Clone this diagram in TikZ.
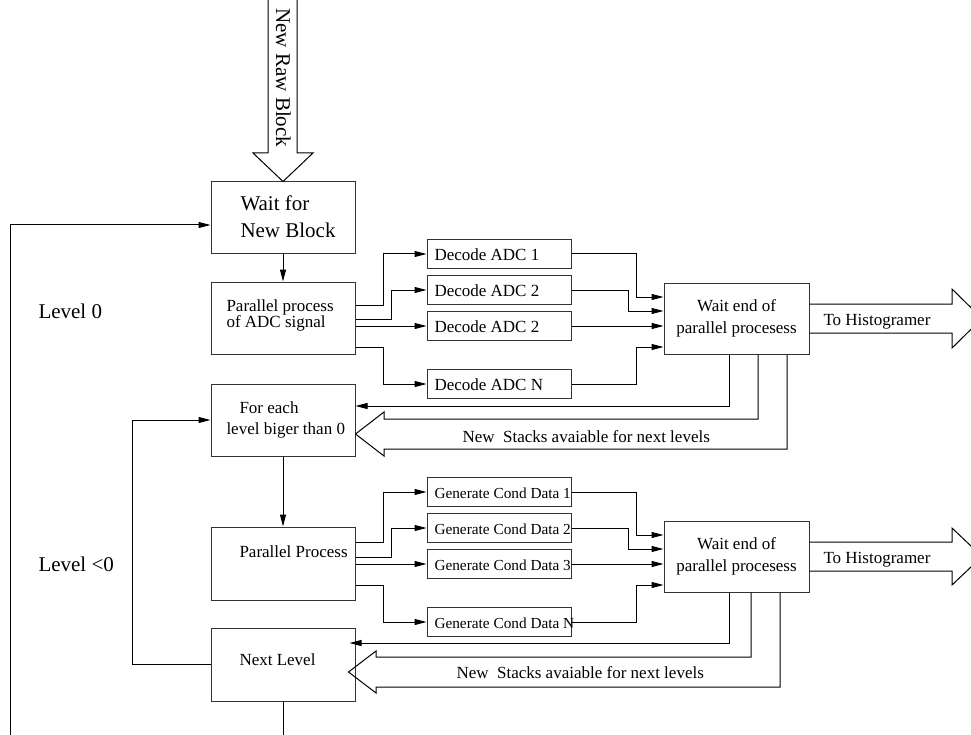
\documentclass[tikz,border=0pt]{standalone}
\usepackage{fontspec}
\setmainfont{Liberation Serif}
\usetikzlibrary{arrows.meta,calc}
\newcommand\szA{\fontsize{21}{24}\selectfont}
\newcommand\szB{\fontsize{17}{20}\selectfont}
\newcommand\szC{\fontsize{15.3}{18}\selectfont}
\begin{document}
\begin{tikzpicture}[x=1pt,y=-1pt,line width=1pt,
  box/.style={draw=black!80,rectangle,inner sep=0pt,minimum width=144pt,minimum height=72pt},
  sbox/.style={draw=black!80,rectangle,inner sep=0pt,minimum width=144pt,minimum height=29pt},
  arr/.style={-{Triangle[length=12pt,width=6pt]}},
  hollow/.style={draw=black,line join=miter},
  lbl/.style={inner sep=0pt,anchor=base west},
  clbl/.style={inner sep=0pt,anchor=base}]
\clip (0,0) rectangle (971,735);
\fill[white] (0,0) rectangle (971,735);

% main boxes
\node[box] (wait) at (283,218) {};
\node[box] (par) at (283,318) {};
\node[box] (fe) at (283,420) {};
\node[box,minimum height=73pt] (pp) at (283,563.5) {};
\node[box,minimum height=73pt] (nl) at (283,664.5) {};
\node[box,minimum width=145pt,minimum height=71pt] (we1) at (736.5,318.5) {};
\node[box,minimum width=145pt,minimum height=71pt] (we2) at (736.5,556.5) {};

% small boxes
\node[sbox] (d1) at (499,254) {};
\node[sbox] (d2) at (499,290) {};
\node[sbox] (d3) at (499,326) {};
\node[sbox] (dN) at (499,384) {};
\node[sbox] (g1) at (499,492) {};
\node[sbox] (g2) at (499,528) {};
\node[sbox] (g3) at (499,564) {};
\node[sbox] (gN) at (499,622) {};

% texts
\node[lbl,font=\szA] (tw1) at (240,211) {Wait for};
\node[lbl,font=\szA] (tw2) at (240,237) {New Block};
\node[lbl,font=\szB] (tp1) at (226,311) {Parallel process};
\node[lbl,font=\szB] (tp2) at (226,327) {of ADC signal};
\node[lbl,font=\szA] (lv0) at (38,318) {Level 0};
\node[lbl,font=\szA] (lvn) at (38,571) {Level <0};
\node[lbl,font=\szB] (td1) at (434,260.5) {Decode ADC 1};
\node[lbl,font=\szB] (td2) at (434,296.5) {Decode ADC 2};
\node[lbl,font=\szB] (td3) at (434,332.5) {Decode ADC 2};
\node[lbl,font=\szB] (tdN) at (434,390.5) {Decode ADC N};
\node[lbl,font=\szC] (tg1) at (434,498.5) {Generate Cond Data 1};
\node[lbl,font=\szC] (tg2) at (434,534.5) {Generate Cond Data 2};
\node[lbl,font=\szC] (tg3) at (434,570.5) {Generate Cond Data 3};
\node[lbl,font=\szC] (tgN) at (434,628.5) {Generate Cond Data N};
\node[clbl,font=\szB] (te1a) at (736.5,311) {Wait end of};
\node[clbl,font=\szB] (te1b) at (736.5,333) {parallel procesess};
\node[clbl,font=\szB] (te2a) at (736.5,549) {Wait end of};
\node[clbl,font=\szB] (te2b) at (736.5,571) {parallel procesess};
\node[lbl,font=\szB] (th1) at (823,325) {To Histogramer};
\node[lbl,font=\szB] (th2) at (823,563) {To Histogramer};
\node[lbl,font=\szB] (tf1) at (239,413) {For each};
\node[lbl,font=\szB] (tf2) at (226,434) {level biger than 0};
\node[lbl,font=\szB] (tpp) at (239,557) {Parallel Process};
\node[lbl,font=\szB] (tnl) at (239,665) {Next Level};
\node[lbl,font=\szB] (ts1) at (462,442) {New\ \ Stacks avaiable for next levels};
\node[lbl,font=\szB] (ts2) at (456,678) {New\ \ Stacks avaiable for next levels};

% New Raw Block hollow arrow
\draw[hollow] (268,-5) -- (268,153) -- (253,153) -- (wait.north) -- (313,153) -- (297,153) -- (297,-5);
\node[lbl,font=\szA,rotate=-90] (trb) at (276,8) {New Raw Block};

% vertical flow
\draw[arr] (wait.south) -- (par.north);
\draw[arr] (fe.south) -- (pp.north);
\coordinate (nbot) at (283,745);
\draw (nl.south) -- (nbot);

% loops
\coordinate (obot) at (10,745);
\draw[arr] (obot) -- (10,225) -- (wait.west |- 0,225);
\draw[arr] (nl.west |- 0,664) -- (132,664) -- (132,420) -- (fe.west);

% fan out level 0
\draw[arr] (par.east |- 0,305) -| (383,254) -- (d1.west);
\draw[arr] (par.east |- 0,319) -| (391,290) -- (d2.west);
\draw[arr] (par.east |- 0,326) -- (d3.west);
\draw[arr] (par.east |- 0,347) -| (383,384) -- (dN.west);
% fan in level 0
\draw[arr] (d1.east) -| (636,297) -- (we1.west |- 0,297);
\draw[arr] (d2.east) -| (628,311) -- (we1.west |- 0,311);
\draw[arr] (d3.east) -- (we1.west |- 0,326);
\draw[arr] (dN.east) -| (636,347) -- (we1.west |- 0,347);

% fan out level <0
\draw[arr] (pp.east |- 0,542) -| (383,492) -- (g1.west);
\draw[arr] (pp.east |- 0,557) -| (391,528) -- (g2.west);
\draw[arr] (pp.east |- 0,564) -- (g3.west);
\draw[arr] (pp.east |- 0,585) -| (383,622) -- (gN.west);
% fan in level <0
\draw[arr] (g1.east) -| (636,535) -- (we2.west |- 0,535);
\draw[arr] (g2.east) -| (628,549) -- (we2.west |- 0,549);
\draw[arr] (g3.east) -- (we2.west |- 0,564);
\draw[arr] (gN.east) -| (636,585) -- (we2.west |- 0,585);

% to histogramer
\draw[hollow] (we1.east |- 0,304) -- (952,304) -- (952,289) -- (982,318.5) -- (952,348) -- (952,333) -- (we1.east |- 0,333);
\draw[hollow] (we2.east |- 0,542) -- (952,542) -- (952,528) -- (982,556.5) -- (952,585) -- (952,571) -- (we2.east |- 0,571);

% feedback level 0
\draw[arr] (we1.south -| 729,0) -- (729,406) -- (fe.east |- 0,406);
\draw[hollow] (we1.south -| 758,0) -- (758,419) -- (384,419) -- (384,412) -- (fe.east |- 0,434) -- (384,456) -- (384,449) -- (787,449) -- (we1.south -| 787,0);

% feedback level <0
\draw[arr,shorten >=-6pt] (we2.south -| 729,0) -- (729,643) -- (nl.east |- 0,643);
\draw[hollow] (we2.south -| 751,0) -- (751,657) -- (376,657) -- (376,651) -- ($(nl.east |- 0,672)+(-7,0)$) -- (376,693) -- (376,687) -- (780,687) -- (we2.south -| 780,0);
\end{tikzpicture}
\end{document}
